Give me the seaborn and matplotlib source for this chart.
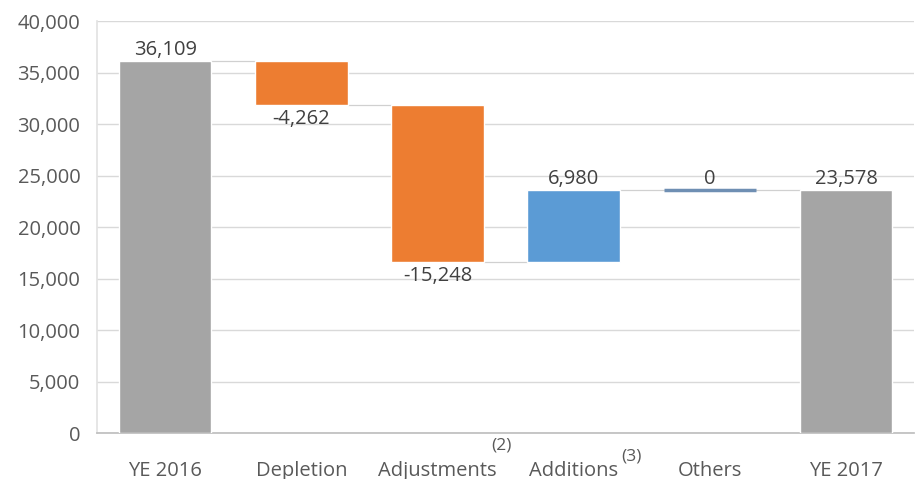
import matplotlib
matplotlib.use("Agg")
import matplotlib.pyplot as plt
from matplotlib.ticker import FuncFormatter, MultipleLocator
import seaborn as sns
import pandas as pd

# Reserve movements, year-end 2016 to year-end 2017
categories = ["YE 2016", "Depletion", "Adjustments", "Additions", "Others", "YE 2017"]
values = [36109, -4262, -15248, 6980, 0, 23578]
kinds = ["total", "delta", "delta", "delta", "delta", "total"]
footnotes = {"Adjustments": "(2)", "Additions": "(3)"}

GREY = "#a5a5a5"
ORANGE = "#ed7d31"
BLUE = "#5b9bd5"
TEXT = "#595959"
GRID = "#d9d9d9"
FS = 14.5

# Running level: each step floats from the previous cumulative level
bases, tops, colors, running = [], [], [], []
level = 0
for v, k in zip(values, kinds):
    if k == "total":
        b, t = 0, v
        level = v
        c = GREY
    else:
        start = level
        level = level + v
        b, t = min(start, level), max(start, level)
        c = ORANGE if v < 0 else BLUE
    bases.append(b)
    tops.append(t)
    colors.append(c)
    running.append(level)

df = pd.DataFrame({"category": categories, "top": tops, "base": bases})

sns.set_theme(style="white")
plt.rcParams["font.family"] = ["Open Sans", "DejaVu Sans"]

fig = plt.figure(figsize=(9.16, 4.79), dpi=100)
ax = fig.add_axes([0.106, 0.096, 0.892, 0.860])

sns.barplot(data=df, x="category", y="top", hue="category", palette=colors,
            legend=False, width=0.68, ax=ax, saturation=1, zorder=3)

# Float each bar between its base and top
for patch, b, t, v, k in zip(ax.patches, bases, tops, values, kinds):
    patch.set_y(b)
    patch.set_height(t - b)
    if k == "delta" and v == 0:
        patch.set_edgecolor("#6f8fb3")
        patch.set_linewidth(2.5)

# Connector lines between consecutive bars
half = 0.34
for i in range(len(categories) - 1):
    ax.plot([i + half, i + 1 - half], [running[i], running[i]],
            color="#d0d0d0", lw=0.9, zorder=2)

# Value labels
for i, (v, k) in enumerate(zip(values, kinds)):
    label = f"{v:,}"
    if v < 0:
        ax.annotate(label, (i, bases[i]), xytext=(0, -3), textcoords="offset points",
                    ha="center", va="top", fontsize=FS, color="#404040")
    else:
        ax.annotate(label, (i, tops[i]), xytext=(0, 1), textcoords="offset points",
                    ha="center", va="bottom", fontsize=FS, color="#404040")

ax.set_ylim(0, 40000)
ax.set_xlim(-0.5, len(categories) - 0.5)
ax.yaxis.set_major_locator(MultipleLocator(5000))
ax.yaxis.set_major_formatter(FuncFormatter(lambda y, _: f"{int(y):,}"))
ax.grid(axis="y", color=GRID, lw=1, zorder=0)
ax.set_axisbelow(True)
ax.set_xlabel("")
ax.set_ylabel("")
ax.tick_params(axis="both", length=0, labelsize=FS, colors=TEXT)
ax.tick_params(axis="x", pad=20)
ax.tick_params(axis="y", pad=12)

for side in ["top", "right"]:
    ax.spines[side].set_visible(False)
ax.spines["left"].set_color("#e3e3e3")
ax.spines["bottom"].set_color("#bfbfbf")

# Footnote markers attached to the upper right of two category labels
fig.canvas.draw()
offsets = {"Adjustments": (-4, 11), "Additions": (2, 3)}
for lbl in ax.get_xticklabels():
    cat = lbl.get_text()
    if cat in footnotes:
        ax.annotate(footnotes[cat], xy=(1, 1), xycoords=lbl,
                    xytext=offsets[cat], textcoords="offset points",
                    ha="left", va="center", fontsize=12.5, color=TEXT,
                    annotation_clip=False)

fig.savefig("out.png", dpi=100, facecolor="white")
